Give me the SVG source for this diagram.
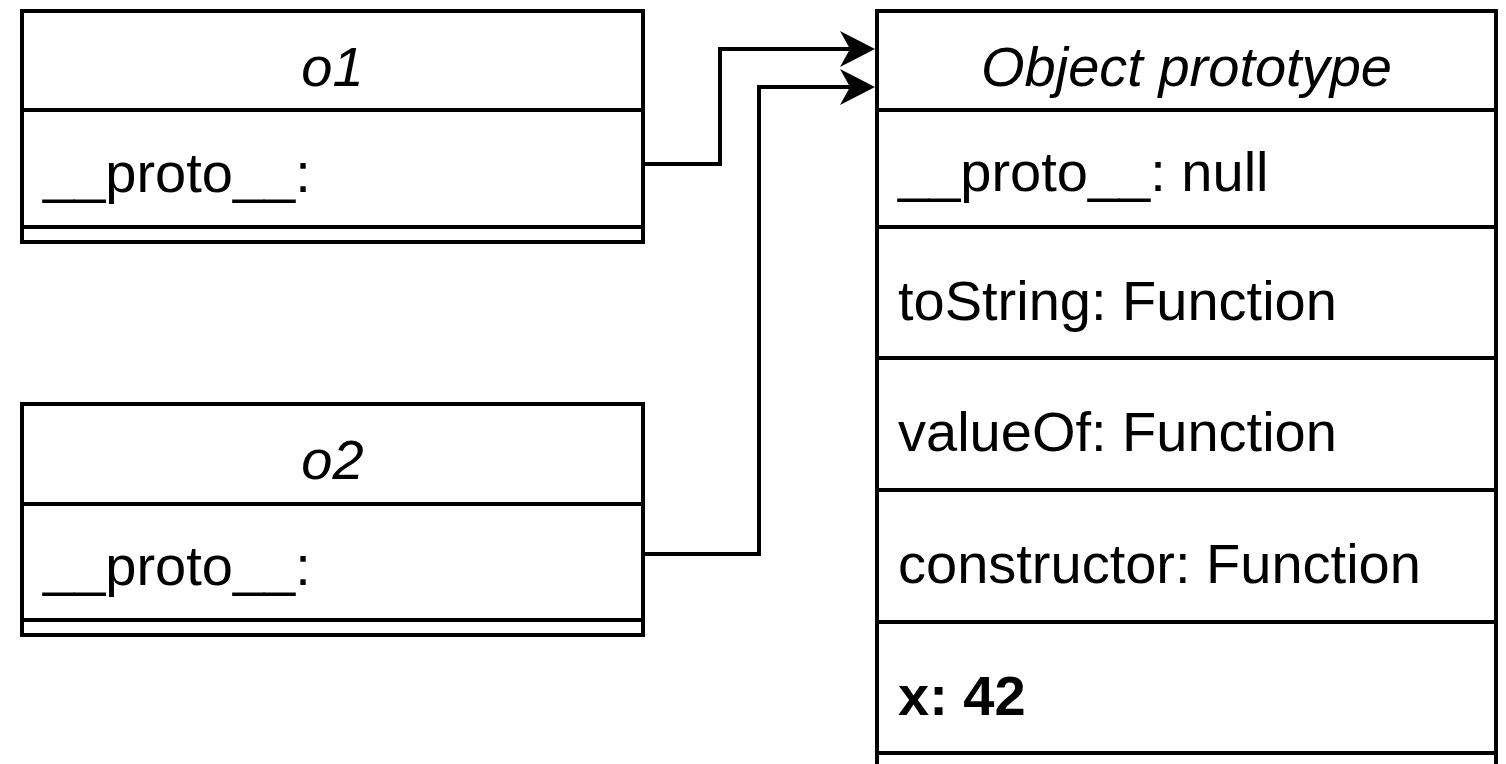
<svg xmlns="http://www.w3.org/2000/svg" width="1506" height="764" viewBox="0 0 1506 764">
<style>
.box{fill:#fff;stroke:#000;stroke-width:4}
.ln{stroke:#000;stroke-width:4;fill:none}
text{font-family:"Liberation Sans",Arial,Helvetica,sans-serif;font-size:56px;fill:#000}
.hd{font-style:italic;text-anchor:middle}
.b{font-weight:bold}
.conn{stroke:#000;stroke-width:4;fill:none}
</style>
<defs>
<marker id="arr" markerUnits="userSpaceOnUse" markerWidth="40" markerHeight="40" refX="10" refY="18" orient="auto" viewBox="0 0 40 40">
<path d="M0,0 L35,18 L0,36 L10,18 Z" fill="#000"/>
</marker>
</defs>
<rect width="1506" height="764" fill="#fff"/>
<g id="connectors">
<path class="conn" d="M643,164 H720 V49 H850" marker-end="url(#arr)"/>
<path class="conn" d="M643,554 H759 V87 H850" marker-end="url(#arr)"/>
</g>
<g id="o1">
<rect class="box" x="22" y="11" width="621" height="231"/>
<line class="ln" x1="22" y1="110" x2="643" y2="110"/>
<line class="ln" x1="22" y1="227" x2="643" y2="227"/>
<text class="hd" x="332.5" y="86">o1</text>
<text x="43" y="192">__proto__:</text>
</g>
<g id="o2">
<rect class="box" x="22" y="404" width="621" height="231"/>
<line class="ln" x1="22" y1="504" x2="643" y2="504"/>
<line class="ln" x1="22" y1="620" x2="643" y2="620"/>
<text class="hd" x="332.5" y="479">o2</text>
<text x="43" y="585">__proto__:</text>
</g>
<g id="objproto">
<rect class="box" x="877" y="11" width="619" height="756"/>
<line class="ln" x1="877" y1="110" x2="1496" y2="110"/>
<line class="ln" x1="877" y1="227" x2="1496" y2="227"/>
<line class="ln" x1="877" y1="358" x2="1496" y2="358"/>
<line class="ln" x1="877" y1="490" x2="1496" y2="490"/>
<line class="ln" x1="877" y1="622" x2="1496" y2="622"/>
<line class="ln" x1="877" y1="753" x2="1496" y2="753"/>
<text class="hd" x="1186.5" y="86">Object prototype</text>
<text x="898" y="191">__proto__: null</text>
<text x="898" y="320">toString: Function</text>
<text x="898" y="451">valueOf: Function</text>
<text x="898" y="583">constructor: Function</text>
<text class="b" x="898" y="715">x: 42</text>
</g>
</svg>
